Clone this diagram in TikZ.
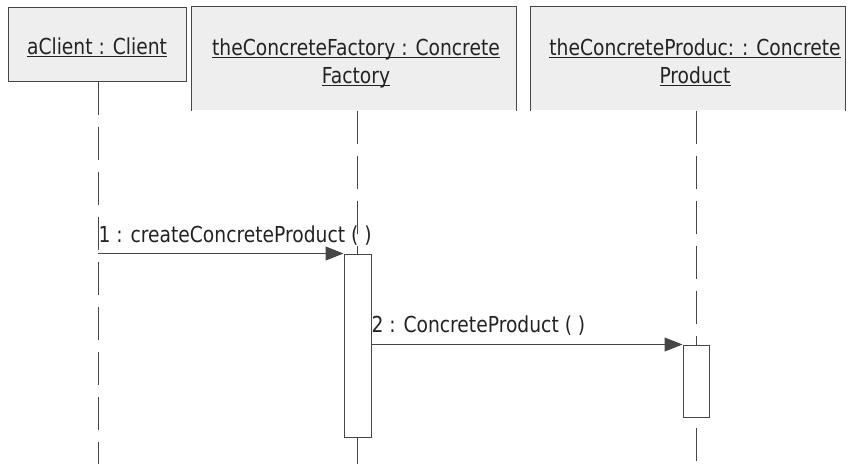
\documentclass[tikz,border=0pt]{standalone}
\usepackage{fontspec}
\setmainfont{DejaVu Sans}[FakeStretch=0.85]
\usepackage{tikz}
\usetikzlibrary{arrows.meta}
\tikzset{every picture/.style={line width=0.75pt}}

\definecolor{boxgrey}{RGB}{238,238,238}
\definecolor{linegrey}{RGB}{70,70,70}
\definecolor{txtgrey}{RGB}{35,35,35}
\newcommand{\objname}[1]{\underline{\smash{#1}}}

\tikzset{
  objbox/.style={fill=boxgrey, inner sep=0pt},
  objtext/.style={text=txtgrey, font=\fontsize{16.5}{21}\selectfont, align=center, inner sep=0pt},
  msgtext/.style={text=txtgrey, font=\fontsize{16.5}{21}\selectfont, inner sep=0pt, anchor=base west},
  lifeline/.style={draw=linegrey, dash pattern=on 24.75pt off 9pt},
  actbox/.style={draw=linegrey, fill=white, inner sep=0pt},
  msg/.style={draw=linegrey, -{Triangle[length=13.5pt,width=10.5pt]}},
}

\begin{document}
\begin{tikzpicture}[x=0.75pt,y=0.75pt,yscale=-1]
\useasboundingbox (0,0) rectangle (849,464);

%Shape: Object boxes
\node[objbox, draw=linegrey, minimum width=133.5pt, minimum height=55.5pt] (client) at (97,44) {};
\node[objbox, minimum width=243pt, minimum height=77.25pt] (factory) at (354,58.5) {};
\draw[linegrey] (factory.south west) |- (factory.north east) -- (factory.south east);
\node[objbox, minimum width=235.5pt, minimum height=77.25pt] (product) at (688,58.5) {};
\draw[linegrey] (product.south west) |- (product.north east) -- (product.south east);

%Text: object names (base = last line)
\node[objtext, anchor=base] (clientname) at (97,54) {\objname{aClient : Client}};
\node[objtext, anchor=base] (factoryname) at (356,83) {\objname{theConcreteFactory : Concrete}\\\objname{Factory}};
\node[objtext, anchor=base] (productname) at (695,83) {\objname{theConcreteProduc: : Concrete}\\\objname{Product}};

%Shape: Activations
\node[actbox, minimum width=20.25pt, minimum height=137.25pt] (factoryact) at (357.5,345.5) {};
\node[actbox, minimum width=19.5pt, minimum height=54pt] (productact) at (696,381) {};

%Lifelines
\coordinate (clientend) at (98,464);
\coordinate (factoryend) at (357.5,464);
\coordinate (productend) at (696,464);
\draw[lifeline] (client.south -| clientend) -- (clientend);
\draw[lifeline] (factoryact.north |- factory.south) -- (factoryact.north);
\draw[lifeline] (factoryact.south) -- (factoryend);
\draw[lifeline] (productact.north |- product.south) -- (productact.north);
\draw[lifeline, dash phase=25.75pt] (productact.south) -- (productend);

%Messages
\draw[msg] (clientend |- factoryact.north) -- (factoryact.north west);
\node[msgtext] (createlbl) at (98,242) {1 : createConcreteProduct ( )};
\draw[msg] (factoryact.east |- productact.north) -- (productact.north west);
\node[msgtext] (ctorlbl) at (371,332) {2 : ConcreteProduct ( )};

\end{tikzpicture}
\end{document}
